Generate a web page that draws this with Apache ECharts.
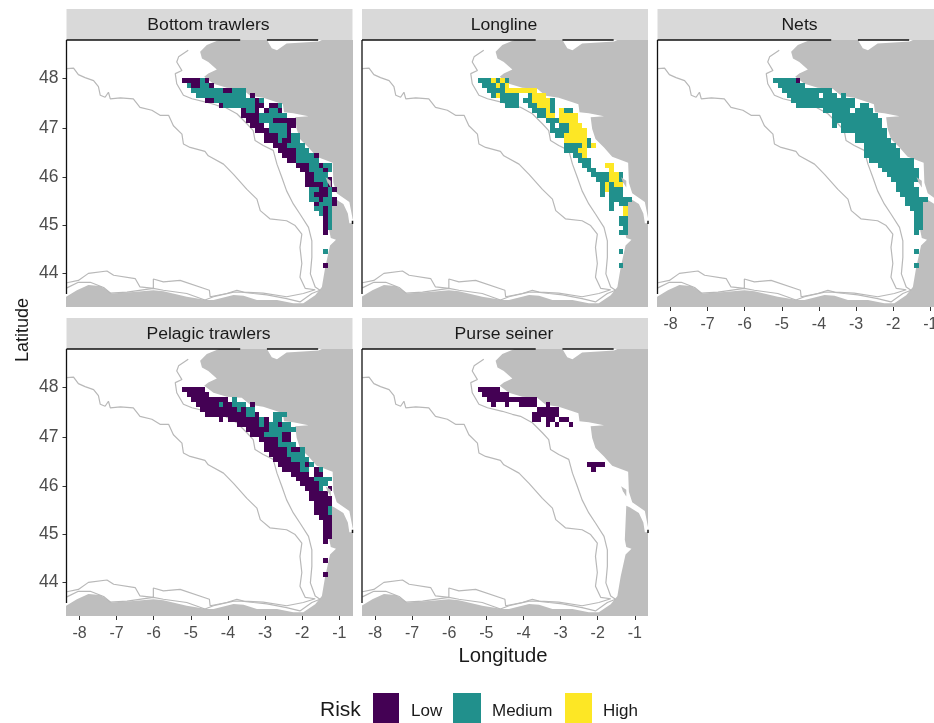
<!DOCTYPE html>
<html><head><meta charset="utf-8">
<style>html,body{margin:0;padding:0;background:#fff;overflow:hidden}#c{width:934px;height:723px;filter:blur(0.35px)}</style>
<script src="https://cdn.jsdelivr.net/npm/echarts@6/dist/echarts.min.js"></script>
</head><body><div id="c"></div>
<script>
const lonTicks=[-8,-7,-6,-5,-4,-3,-2,-1];
const latTicks=[44,45,46,47,48];
const riskLevels=['Low','Medium','High'];
const panelNames=['Bottom trawlers','Longline','Nets','Pelagic trawlers','Purse seiner'];
const lonStart=-5.235, cellLon=0.1225, latStart=48, cellLat=0.1;
// rows from lat 48 southward, runs of column indices: L/M/H risk
const bottomTrawlers=["L0-3 M4 L5","M1 L2-3 M4-5 L6","M2-8 L9-10 M11-13","M3-13 L15","L5-6 M7-15 L16 M17","L8 M9-15 L16-17 L19-20 M21","L13 M14-15 L16 L18 M19-20 L21","L13-16 M17-19 M20-22","L14-16 M17-19 L20-22 L23-24","L15-17 M19-22 L23-24","L16-18 M19-22 L23","L18-20 M21-22 L23 M24-25","L18-20 M21 L22-23 M24-25","L20-22 M23-26","L21-24 M25-27","L22-24 M25-28 L29","L23-24 M25-29","L25-27 M28-29 L30 M31-32","L26-27 M28-30 L31 M32","L27-28 M29-31","L27-28 M29-31 L32","L27-30 M31 L32","M28-29 L30-31 M32 L33","M28 L29-31 M32","M28-29 L30 M31-32 L33","L29 M30-32 L33","M29-30 L31 M32","M30 L31 M32","L31 M32","L31 M32","L31 M32","L31","","","","M31","","","L31"];
const longline=["M0-2 H3 M4 H5 M6","M1-3 H4 M5 H6","M2-5 H6-12","M3 H4 M5-8 M11 H12-14","M5-8 M10-11 H12-15 M16","M6-8 M11-12 H13-15 M16","M12-14 H15 M16 H18 M19-20","M13-14 H15-16 H18-21","M15-17 H18-21","M16 M18-19 H20-22","M16-17 M18-19 H20-23","M17-18 H19-23","H19-23 M24","M19-22 H23 M24 H25","M19-21 H22-23","M21-22 H23","M22-23 M24","M23-24 H28-29","M24-25 H29","M25-28 H29-30 M31","M26-28 H29-30 M31","M27 H28 M29 H30-31","M27 H28 M29-31","M27 M29-31","M29 M30-33","M29 M31-32","M29 H32","H32","M31-32","M31-32","M32","M31-32","","","","M31","","","M31"];
const nets=["M0-4 L5","M1-6","M2-12","M3-9 M11-13 M15","M4-17","M5-17 M19-20","M11-16 M18-21","M13-22","M13-23","M13 M15-23","M15-24","M18-24","M18-25","M20-26","M20-27","M20-27","M21-30","M23-30","M24-31","M25-31","M26-31","M27-30","M27-31","M28-31","M29-33","M29-32","M30-32","M31-32","M31-32","M31-32","M31-32","M31","","","","M31","","","M31"];
const pelagicTrawlers=["L0-4","L1-5","L2-9 M11","L3-7 M8 L9-10 M11-13 L15","L4-11 M12 L13 M14-15","L5-13 M14-15 L16 M20-22","L8 L10-16 M17 L18 M20-21","L12-16 M17 L18 M19-20 L21 M22-23","L14-18 M19-24","L15-17 M18-21 L22-23","L17-20 M21 L22-23","L18-20 M21-24","L18-22 M23 L24-25 M26","L19-22 M23-26","L20-23 M24-27","L21-25 M26 L27 M28","L22-25 M26-27 L29 M30","L24-27 L29-30","L25-28 M29-32","L26-29 M30-31","L27-29 M30 L32","L28-31","L28-32","L29-32","L29-31 M32","L29-31 M32","L30-32","L31-32","L31-32","L31-32","L31-32","L31","","","","L31","","","L31"];
const purseSeiner=["L0-4","L1-6","L2-12","L3 L6 L9-12 L15","L13-17","L12-17","L12-13 L15-16 L18-19","L15 L17 L20","","","","","","","","L24-27","L25"];
const landCoast=[[-4.24,48.75],[-4.57,48.65],[-4.75,48.52],[-4.70,48.39],[-4.53,48.32],[-4.30,48.17],[-4.53,48.09],[-4.64,48.03],[-4.39,47.89],[-4.03,47.81],[-3.63,47.79],[-3.40,47.65],[-3.05,47.61],[-2.68,47.52],[-2.52,47.48],[-2.49,47.32],[-2.24,47.30],[-1.83,47.24],[-2.19,47.22],[-2.15,46.99],[-2.06,46.78],[-1.83,46.61],[-1.61,46.42],[-1.18,46.30],[-1.16,45.89],[-1.07,45.67],[-0.73,45.49],[-0.64,45.13],[-0.5,45.13],[-0.5,45.05],[-0.73,45.05],[-0.77,45.25],[-0.89,45.45],[-1.14,45.57],[-1.23,45.60],[-1.27,44.89],[-1.23,44.74],[-1.09,44.70],[-1.25,44.58],[-1.38,44.12],[-1.47,43.70],[-1.65,43.52],[-1.97,43.35],[-2.24,43.35],[-2.68,43.42],[-3.22,43.42],[-3.58,43.51],[-3.85,43.53],[-4.39,43.42],[-4.57,43.42],[-5.11,43.49],[-5.74,43.61],[-6.01,43.63],[-6.55,43.59],[-7.13,43.56],[-7.44,43.72],[-7.76,43.74],[-8.07,43.63],[-8.36,43.49],[-8.6,43.49],[-8.6,43.1],[-0.4,43.1],[-0.4,48.95],[-1.47,48.95],[-1.47,48.75],[-1.56,48.72],[-2.42,48.68],[-2.68,48.55],[-2.82,48.59],[-2.95,48.75],[-2.95,48.95],[-4.24,48.95]];
const landIsland=[[-1.37,46.0],[-1.23,45.93],[-1.23,45.79],[-1.32,45.90]];
const contourOuter=[[-8.34,48.19],[-8.16,48.20],[-8.03,48.07],[-7.85,48.01],[-7.62,47.95],[-7.49,47.83],[-7.44,47.66],[-7.31,47.62],[-7.22,47.72],[-7.17,47.59],[-6.90,47.61],[-6.55,47.59],[-6.37,47.42],[-6.05,47.36],[-5.83,47.26],[-5.60,47.26],[-5.47,47.05],[-5.24,46.88],[-5.20,46.68],[-5.02,46.61],[-4.62,46.53],[-4.53,46.44],[-4.12,46.27],[-3.85,46.06],[-3.49,45.75],[-3.22,45.55],[-3.13,45.31],[-2.87,45.14],[-2.42,45.10],[-2.19,45.00],[-2.01,44.82],[-2.06,44.54],[-2.01,44.20],[-2.06,43.91],[-1.92,43.67],[-1.65,43.64],[-1.97,43.56],[-2.42,43.49],[-3.05,43.57],[-3.58,43.59],[-3.76,43.63],[-4.03,43.56],[-4.48,43.49],[-4.50,43.63],[-5.29,43.84],[-5.74,43.81],[-6.01,43.87],[-6.01,43.67],[-6.37,43.70],[-6.50,43.88],[-7.08,43.95],[-7.26,44.04],[-7.76,43.99],[-8.03,43.84],[-8.34,43.79]];
const contourInner=[[-5.07,48.55],[-5.33,48.42],[-5.38,48.32],[-5.24,48.15],[-5.42,48.09],[-5.38,47.89],[-5.20,47.66],[-4.97,47.59],[-4.57,47.52],[-4.30,47.46],[-4.08,47.42],[-3.76,47.29],[-3.49,47.09],[-3.32,46.95],[-3.27,46.75],[-3.05,46.65],[-2.78,46.55],[-2.68,46.27],[-2.55,46.0],[-2.42,45.72],[-2.24,45.45],[-2.06,45.24],[-1.83,44.96],[-1.74,44.68],[-1.74,44.33],[-1.78,43.98],[-1.65,43.70],[-1.52,43.63],[-1.74,43.56],[-2.06,43.38],[-2.42,43.45],[-2.95,43.53],[-3.31,43.56],[-3.63,43.59],[-3.85,43.59],[-4.39,43.49],[-4.62,43.42],[-5.11,43.56],[-5.74,43.63],[-6.01,43.67],[-6.72,43.59],[-7.17,43.57],[-7.35,43.69],[-7.71,43.80],[-8.03,43.80],[-8.34,43.68]];
const lonMin=-8.35, lonMax=-0.645, latMin=43.27, latMax=48.75;
const topEdge=[[-8.35,48.75],[-3.67,48.75],null,[-2.95,48.75],[-1.57,48.75]];
const leftEdge=[[-8.35,48.75],[-8.35,43.55]];
const rightDot=[[-0.645,45.10],[-0.645,45.03]];

const colors={L:'#440154',M:'#21908C',H:'#FDE725'};
const levelOf={L:0,M:1,H:2};
const colorList=[colors.L,colors.M,colors.H];
const FONT='"Liberation Sans",Arial,sans-serif';
const merc=lat=>Math.log(Math.tan(Math.PI/4+lat*Math.PI/360))*180/Math.PI;
const invMerc=m=>(2*Math.atan(Math.exp(m*Math.PI/180))-Math.PI/2)*180/Math.PI;
const pt=p=>p?[p[0],merc(p[1])]:[null,null];

function parseRows(rows){
  const out=[];
  rows.forEach((row,j)=>{
    if(!row)return;
    row.split(' ').forEach(run=>{
      const lv=run[0];const [a,b]=run.slice(1).split('-').map(Number);
      for(let k=a;k<=(b===undefined?a:b);k++){
        out.push([lonStart+k*cellLon,latStart-j*cellLat,levelOf[lv]]);
      }
    });
  });
  return out;
}
const panelRows=[bottomTrawlers,longline,nets,pelagicTrawlers,purseSeiner];
const layout=[
 {left:66.5,top:40,y:true,x:false},
 {left:362,top:40,y:false,x:false},
 {left:657.5,top:40,y:false,x:true},
 {left:66.5,top:349,y:true,x:true},
 {left:362,top:349,y:false,x:true}];
const PW=286,PH=267;

function polygonSeries(i,pts,z){
  return {type:'custom',xAxisIndex:i,yAxisIndex:i,coordinateSystem:'cartesian2d',clip:true,z:z,silent:true,
    data:[0],encode:{x:[],y:[]},
    renderItem:(p,api)=>({type:'polygon',shape:{points:pts.map(q=>api.coord(pt(q)))},style:{fill:'#BEBEBE',stroke:null}})};
}
function lineSeries(i,pts,color,w,z,clip){
  return {type:'line',xAxisIndex:i,yAxisIndex:i,data:pts.map(pt),showSymbol:false,symbol:'none',connectNulls:false,
    clip:clip,z:z,silent:true,lineStyle:{color:color,width:w},itemStyle:{color:color}};
}
const grids=[],xAxes=[],yAxes=[],series=[],graphics=[];
layout.forEach((g,i)=>{
  grids.push({left:g.left,top:g.top,width:PW,height:PH,containLabel:false,outerBoundsMode:'none'});
  xAxes.push({type:'value',gridIndex:i,min:lonMin,max:lonMax,splitLine:{show:false},axisLine:{show:false},
    axisTick:{show:g.x,length:4,lineStyle:{color:'#333',width:1},customValues:lonTicks},
    axisLabel:{show:g.x,color:'#4D4D4D',fontFamily:FONT,fontSize:16,margin:10,customValues:lonTicks,formatter:v=>String(Math.round(v)),hideOverlap:false}});
  const my=latTicks.map(merc);
  yAxes.push({type:'value',gridIndex:i,min:merc(latMin),max:merc(latMax),splitLine:{show:false},axisLine:{show:false},
    axisTick:{show:g.y,length:4,lineStyle:{color:'#333',width:1},customValues:my},
    axisLabel:{show:g.y,color:'#4D4D4D',fontFamily:FONT,fontSize:17.5,margin:8,customValues:my,formatter:v=>String(Math.round(invMerc(v)))}});
  series.push({type:'custom',name:panelNames[i],xAxisIndex:i,yAxisIndex:i,coordinateSystem:'cartesian2d',clip:true,z:3,silent:true,
    data:parseRows(panelRows[i]),dimensions:['lon','lat','risk'],encode:{x:0,y:1},
    renderItem:(p,api)=>{
      const lon=api.value(0),lat=api.value(1);
      const a=api.coord([lon,merc(lat)]),b=api.coord([lon+cellLon,merc(lat-cellLat)]);
      const x0=Math.round(a[0]),y0=Math.round(a[1]),x1=Math.round(b[0]),y1=Math.round(b[1]);
      return {type:'rect',shape:{x:x0,y:y0,width:x1-x0,height:y1-y0},style:{fill:colorList[api.value(2)],stroke:null}};
    }});
  series.push(lineSeries(i,contourOuter,'#B8B8B8',1.2,2,true));
  series.push(lineSeries(i,contourInner,'#B8B8B8',1.2,2,true));
  series.push(polygonSeries(i,landCoast,2));
  series.push(polygonSeries(i,landIsland,4));
  series.push(lineSeries(i,topEdge,'#111',1.5,5,false));
  series.push(lineSeries(i,leftEdge,'#111',1.3,5,false));
  series.push(lineSeries(i,rightDot,'#111',1.5,5,false));
  graphics.push({type:'rect',shape:{x:g.left,y:g.top-31,width:PW,height:31},style:{fill:'#D9D9D9'},silent:true,z:1});
  graphics.push({type:'text',x:g.left+PW/2-1,y:g.top-14,scaleX:1.1,style:{text:panelNames[i],fill:'#1A1A1A',font:'16px '+FONT,align:'center',verticalAlign:'middle'},silent:true,z:2});
});
const txt=(x,y,text,size,align,rot)=>({type:'text',x,y,rotation:rot||0,style:{text,fill:'#1A1A1A',font:size+'px '+FONT,align:align||'left',verticalAlign:'middle'},silent:true,z:2});
graphics.push(txt(503,656,'Longitude',20.3,'center'));
graphics.push(txt(23,330,'Latitude',18,'center',Math.PI/2));
graphics.push(txt(320,710,'Risk',21,'left'));
const legendX=[[373,26,411],[453,28,492],[565,27,603]];
legendX.forEach((l,i)=>{
  graphics.push({type:'rect',shape:{x:l[0],y:693,width:l[1],height:30},style:{fill:colorList[i]},silent:true,z:2});
  graphics.push(txt(l[2],711,riskLevels[i],17,'left'));
});
const chart=echarts.init(document.getElementById('c'),null,{width:934,height:723});
chart.setOption({animation:false,backgroundColor:'#fff',grid:grids,xAxis:xAxes,yAxis:yAxes,series,graphic:{elements:graphics}});
</script></body></html>
